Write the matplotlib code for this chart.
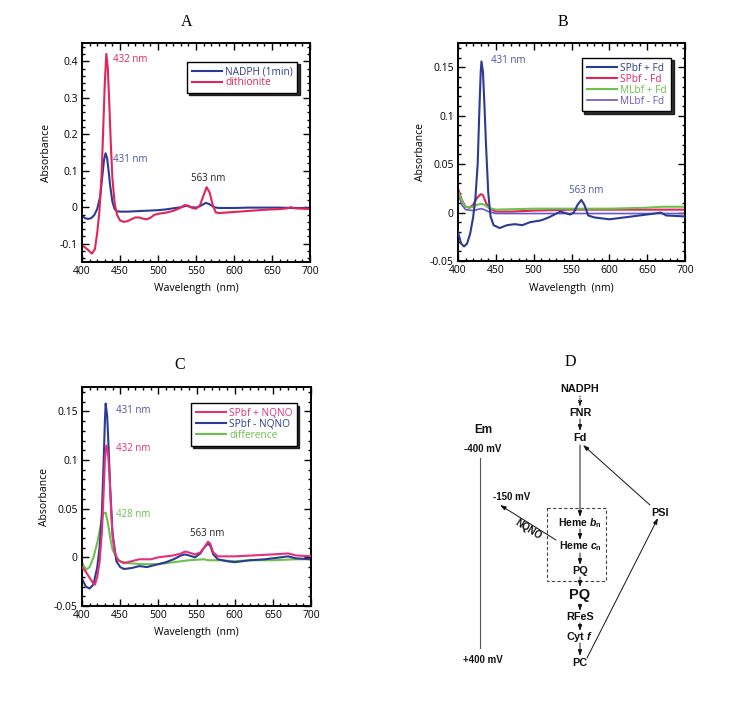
import matplotlib
matplotlib.use("Agg")
import matplotlib.pyplot as plt
from matplotlib.ticker import AutoMinorLocator, FuncFormatter, MultipleLocator
from matplotlib.patches import Rectangle

plt.rcParams['font.family'] = ['Open Sans', 'DejaVu Sans']
plt.rcParams['axes.unicode_minus'] = False
plt.rcParams['mathtext.fontset'] = 'custom'
plt.rcParams['mathtext.rm'] = 'Liberation Sans:bold'
plt.rcParams['mathtext.it'] = 'Liberation Sans:italic:bold'
plt.rcParams['mathtext.bf'] = 'Liberation Sans:bold'

BLUE = '#2B3B93'
RED = '#E3245A'
PINK = '#E42F7C'
GREEN = '#6CC14C'
PURPLE = '#6A55C6'

# ---------------- Panel A data ----------------
a_nadph_x = [400, 404, 408, 412, 416, 420, 424, 427, 429, 431, 433, 435, 437, 440, 443, 446, 450,
             460, 470, 480, 490, 500, 510, 520, 530, 537, 545, 550, 556, 563, 568, 574, 580,
             600, 620, 640, 660, 680, 700]
a_nadph_y = [-0.023, -0.03, -0.032, -0.03, -0.022, -0.005, 0.03, 0.09, 0.13, 0.148, 0.135, 0.1, 0.06,
             0.015, -0.005, -0.011, -0.012, -0.012, -0.011, -0.01, -0.009, -0.008, -0.006, -0.003, 0.0,
             0.004, 0.0, -0.001, 0.004, 0.012, 0.008, 0.0, -0.002, -0.002, -0.001, -0.001, -0.001, -0.002, -0.002]
a_dith_x = [400, 404, 408, 413, 417, 420, 423, 426, 428, 430, 432, 434, 436, 438, 440, 443, 446, 450,
            455, 460, 465, 470, 475, 480, 485, 490, 495, 500, 510, 520, 530, 535, 540, 545, 550,
            555, 560, 564, 568, 572, 576, 580, 600, 620, 640, 660, 670, 675, 680, 700]
a_dith_y = [-0.105, -0.11, -0.117, -0.127, -0.115, -0.07, -0.01, 0.1, 0.22, 0.34, 0.42, 0.38, 0.28, 0.17,
            0.08, 0.01, -0.02, -0.036, -0.04, -0.038, -0.033, -0.028, -0.028, -0.031, -0.033, -0.029,
            -0.021, -0.018, -0.015, -0.01, -0.001, 0.006, 0.004, -0.002, -0.004, 0.004, 0.033, 0.055,
            0.04, 0.006, -0.014, -0.016, -0.013, -0.01, -0.007, -0.005, -0.003, 0.0, -0.003, -0.005]

# ---------------- Panel B data ----------------
b_sp_fd_x = [400, 404, 408, 412, 416, 420, 423, 426, 428, 430, 431, 433, 435, 437, 440, 443, 447,
             455, 465, 475, 485, 495, 510, 520, 530, 535, 540, 548, 553, 558, 563, 567, 572, 580,
             600, 620, 640, 660, 668, 675, 700]
b_sp_fd_y = [-0.02, -0.032, -0.035, -0.032, -0.022, -0.005, 0.015, 0.05, 0.1, 0.145, 0.156, 0.145, 0.11,
             0.07, 0.02, -0.004, -0.013, -0.016, -0.013, -0.012, -0.013, -0.01, -0.008, -0.005, -0.001,
             0.001, 0.0, -0.002, 0.0, 0.008, 0.013, 0.008, -0.003, -0.005, -0.007, -0.005, -0.003,
             -0.001, 0.0, -0.003, -0.004]
b_sp_nofd_x = [400, 405, 410, 415, 420, 425, 430, 433, 437, 442, 450, 470, 500, 550, 600, 650, 700]
b_sp_nofd_y = [0.025, 0.013, 0.006, 0.005, 0.008, 0.015, 0.019, 0.018, 0.01, 0.004, 0.001, 0.001, 0.002,
               0.003, 0.003, 0.003, 0.003]
b_ml_fd_x = [400, 405, 410, 415, 420, 425, 430, 435, 440, 450, 500, 550, 600, 650, 670, 700]
b_ml_fd_y = [0.022, 0.012, 0.006, 0.005, 0.006, 0.008, 0.009, 0.008, 0.005, 0.003, 0.004, 0.004, 0.004,
             0.005, 0.006, 0.006]
b_ml_nofd_x = [400, 405, 410, 420, 425, 430, 435, 440, 450, 500, 600, 650, 700]
b_ml_nofd_y = [0.02, 0.008, 0.003, 0.002, 0.003, 0.004, 0.003, 0.001, -0.001, -0.001, -0.001, -0.001, -0.001]

# ---------------- Panel C data ----------------
c_plus_x = [400, 405, 410, 414, 417, 420, 423, 426, 428, 430, 432, 434, 436, 438, 440, 443, 447, 455,
            465, 475, 490, 500, 520, 530, 535, 540, 548, 555, 560, 565, 568, 572, 578, 600, 650, 670,
            680, 700]
c_plus_y = [-0.01, -0.015, -0.021, -0.026, -0.028, -0.02, -0.005, 0.025, 0.06, 0.1, 0.115, 0.108, 0.085,
            0.05, 0.022, 0.005, -0.003, -0.006, -0.004, -0.002, -0.002, 0.0, 0.002, 0.004, 0.006, 0.005,
            0.003, 0.005, 0.01, 0.016, 0.014, 0.005, 0.001, 0.001, 0.003, 0.004, 0.002, 0.001]
c_minus_x = [400, 405, 410, 415, 420, 423, 426, 428, 430, 431, 433, 435, 437, 440, 445, 450, 455, 465,
             475, 485, 495, 510, 520, 530, 535, 540, 548, 555, 560, 565, 568, 572, 578, 590, 600, 620,
             640, 660, 670, 680, 700]
c_minus_y = [-0.022, -0.03, -0.032, -0.028, -0.01, 0.01, 0.045, 0.09, 0.14, 0.158, 0.145, 0.11, 0.07,
             0.025, -0.004, -0.01, -0.012, -0.011, -0.009, -0.01, -0.008, -0.005, -0.002, 0.002, 0.003,
             0.002, 0.0, 0.004, 0.01, 0.014, 0.012, 0.003, -0.002, -0.004, -0.005, -0.003, -0.002, 0.0,
             0.001, -0.001, -0.002]
c_diff_x = [400, 405, 410, 415, 420, 425, 428, 431, 434, 437, 440, 445, 450, 460, 480, 500, 520, 540,
            560, 565, 580, 600, 620, 650, 680, 700]
c_diff_y = [-0.005, -0.013, -0.01, 0.0, 0.015, 0.035, 0.045, 0.046, 0.035, 0.02, 0.008, 0.0, -0.004,
            -0.006, -0.007, -0.007, -0.005, -0.003, -0.002, -0.003, -0.003, -0.004, -0.003, -0.003,
            -0.002, -0.002]

W, H = 750, 701
fig = plt.figure(figsize=(7.5, 7.01), dpi=100)


def px_axes(x0, y0, x1, y1):
    return fig.add_axes([x0 / W, 1 - y1 / H, (x1 - x0) / W, (y1 - y0) / H])


fmt = FuncFormatter(lambda v, p: ('%g' % round(v, 4)).replace('\u2212', '-'))


def style(ax, ylim, ymaj, yminor_n, ylabel_x, xlabel_y):
    ax.set_xlim(400, 700)
    ax.set_ylim(*ylim)
    ax.xaxis.set_major_locator(MultipleLocator(50))
    ax.xaxis.set_minor_locator(AutoMinorLocator(5))
    ax.yaxis.set_major_locator(MultipleLocator(ymaj))
    ax.yaxis.set_minor_locator(AutoMinorLocator(yminor_n))
    ax.yaxis.set_major_formatter(fmt)
    ax.tick_params(which='both', direction='in', top=True, right=True, labelsize=7.5, width=1.0)
    ax.tick_params(which='major', length=5, pad=3)
    ax.tick_params(which='minor', length=2.5)
    for s in ax.spines.values():
        s.set_linewidth(1.4)
    ax.set_xlabel('Wavelength  (nm)', fontsize=7.5)
    ax.set_ylabel('Absorbance', fontsize=7.5)
    ax.yaxis.set_label_coords(ylabel_x, 0.5)
    ax.xaxis.set_label_coords(0.5, xlabel_y)


def legend(ax, anchor):
    leg = ax.legend(loc='upper right', bbox_to_anchor=anchor, borderaxespad=0, fontsize=7.3,
                    handlelength=3.0, handletextpad=0.3, labelspacing=0.0, borderpad=0.45,
                    fancybox=False, edgecolor='black', labelcolor='linecolor',
                    shadow={'color': 'black', 'alpha': 0.8, 'ox': 1.6, 'oy': -1.6},
                    framealpha=1)
    leg.get_frame().set_linewidth(1.0)
    return leg

# ---- A ----
axA = px_axes(82, 43, 310, 262)
axA.plot(a_nadph_x, a_nadph_y, color=BLUE, lw=1.5, label='NADPH (1min)')
axA.plot(a_dith_x, a_dith_y, color=RED, lw=1.5, label='dithionite')
style(axA, (-0.15, 0.45), 0.1, 5, -0.13, -0.095)
legend(axA, (0.945, 0.915))
axA.text(441, 0.405, '432 nm', color=RED, fontsize=7, va='center')
axA.text(441, 0.13, '431 nm', color='#4A52A2', fontsize=7, va='center')
axA.text(566, 0.078, '563 nm', color='#222222', fontsize=7, va='center', ha='center')

# ---- B ----
axB = px_axes(458, 43, 685, 261)
axB.plot(b_sp_fd_x, b_sp_fd_y, color=BLUE, lw=1.5, label='SPbf + Fd', zorder=3)
axB.plot(b_sp_nofd_x, b_sp_nofd_y, color=RED, lw=1.5, label='SPbf - Fd', zorder=2)
axB.plot(b_ml_fd_x, b_ml_fd_y, color=GREEN, lw=1.5, label='MLbf + Fd', zorder=2.5)
axB.plot(b_ml_nofd_x, b_ml_nofd_y, color=PURPLE, lw=1.2, label='MLbf - Fd', zorder=2.2)
style(axB, (-0.05, 0.175), 0.05, 5, -0.14, -0.1)
legend(axB, (0.94, 0.93))
axB.text(443, 0.157, '431 nm', color='#4A52A2', fontsize=7, va='center')
axB.text(570, 0.0228, '563 nm', color='#4A52A2', fontsize=7, va='center', ha='center')

# ---- C ----
axC = px_axes(82, 387, 311, 606)
axC.plot(c_plus_x, c_plus_y, color=PINK, lw=1.5, label='SPbf + NQNO', zorder=3)
axC.plot(c_minus_x, c_minus_y, color=BLUE, lw=1.5, label='SPbf - NQNO', zorder=2.5)
axC.plot(c_diff_x, c_diff_y, color=GREEN, lw=1.5, label='difference', zorder=2)
style(axC, (-0.05, 0.175), 0.05, 5, -0.14, -0.095)
legend(axC, (0.94, 0.925))
axC.text(444.5, 0.151, '431 nm', color='#4A52A2', fontsize=7, va='center')
axC.text(444.5, 0.1115, '432 nm', color=PINK, fontsize=7, va='center')
axC.text(444.5, 0.044, '428 nm', color=GREEN, fontsize=7, va='center')
axC.text(564, 0.024, '563 nm', color='#222222', fontsize=7, va='center', ha='center')

# ---- overlay for titles and diagram D ----
ov = fig.add_axes([0, 0, 1, 1], zorder=-1)
ov.set_xlim(0, W)
ov.set_ylim(H, 0)
ov.axis('off')

serif = dict(family=['Liberation Serif', 'DejaVu Serif'], fontsize=11.5, ha='center', va='center')
ov.text(187, 22, 'A', **serif)
ov.text(563, 22, 'B', **serif)
ov.text(180, 365, 'C', **serif)
ov.text(570, 362, 'D', **serif)

bold = dict(family=['Liberation Sans', 'DejaVu Sans'], fontweight='bold', ha='center', va='center',
            fontsize=7.8, color='#111111')
nodes = [('NADPH', 580, 389), ('FNR', 580, 413), ('Fd', 580, 438),
         ('PQ', 580, 571), ('RFeS', 580, 617), (r'Cyt $f$', 580, 637), ('PC', 580, 663),
         ('PSI', 660, 513)]
for lab, x, y in nodes:
    ov.text(x, y, lab, **bold)
ov.text(580, 523, r'Heme $b_{\mathrm{n}}$', **{**bold, 'fontsize': 7.5})
ov.text(580, 546, r'Heme $c_{\mathrm{n}}$', **{**bold, 'fontsize': 7.5})
ov.text(580, 595, 'PQ', **{**bold, 'fontsize': 10.5})
ov.text(483, 430, 'Em', **{**bold, 'fontsize': 8.5})
ov.text(483, 449, '-400 mV', **{**bold, 'fontsize': 7})
ov.text(483, 660, '+400 mV', **{**bold, 'fontsize': 7})
ov.text(512, 497, '-150 mV', **{**bold, 'fontsize': 7})
ov.text(528, 529, 'NQNO', rotation=-32, **{**bold, 'fontsize': 7})

ov.plot([480, 480], [458, 648], color='#555555', lw=0.8)
ov.add_patch(Rectangle((547, 508), 59, 73, fill=False, ls=(0, (3, 2)), lw=0.8, ec='#444444'))


def arrow(x0, y0, x1, y1, ls='-'):
    ov.annotate('', xy=(x1, y1), xytext=(x0, y0),
                arrowprops=dict(arrowstyle='-|>,head_length=0.35,head_width=0.12', lw=0.7,
                                color='#111111', ls=ls, shrinkA=0, shrinkB=0))


arrow(580, 396, 580, 407, ls=':')
arrow(580, 419, 580, 431)
arrow(580, 445, 580, 517)
arrow(580, 529, 580, 540)
arrow(580, 553, 580, 565)
arrow(580, 577, 580, 587)
arrow(580, 604, 580, 611)
arrow(580, 623, 580, 631)
arrow(580, 643, 580, 656)
arrow(650, 505, 583, 445)
arrow(587, 658, 658, 518)
arrow(556, 540, 500, 505)

fig.savefig('out.png', dpi=100)
